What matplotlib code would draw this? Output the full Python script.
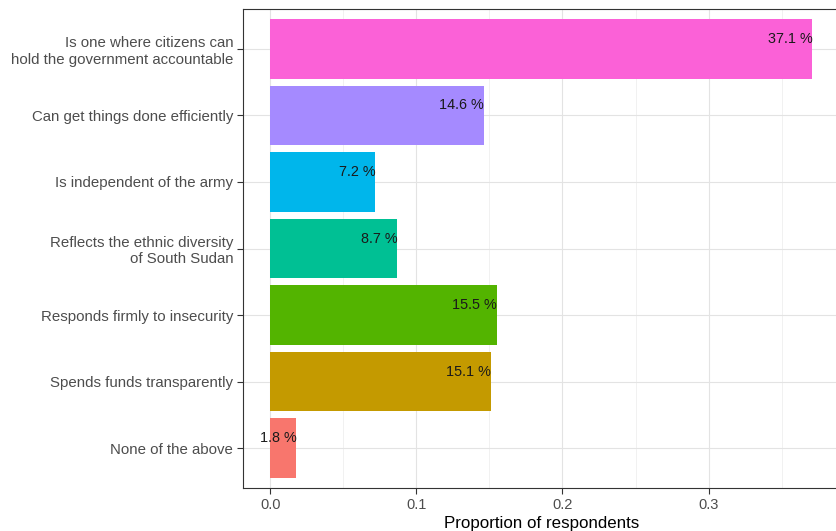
import matplotlib.pyplot as plt
import numpy as np
from matplotlib.ticker import MultipleLocator

plt.rcParams['font.family'] = ['Liberation Sans', 'DejaVu Sans']

# Data (bottom to top)
categories = ['None of the above',
              'Spends funds transparently',
              'Responds firmly to insecurity',
              'Reflects the ethnic diversity\nof South Sudan',
              'Is independent of the army',
              'Can get things done efficiently',
              'Is one where citizens can\nhold the government accountable']
values = [0.018, 0.151, 0.155, 0.087, 0.072, 0.146, 0.371]
labels = ['1.8 %', '15.1 %', '15.5 %', '8.7 %', '7.2 %', '14.6 %', '37.1 %']
colors = ['#F8766D', '#C49A00', '#53B400', '#00C094', '#00B6EB', '#A58AFF', '#FB61D7']

fig = plt.figure(figsize=(8.37, 5.31), dpi=100)
# panel runs slightly past the right edge, as in the cropped reference
ax = fig.add_axes([243/837, 1 - 488/531, (841 - 243)/837, (488 - 9)/531])

y = np.arange(len(categories))
ax.barh(y, values, height=0.9, color=colors, zorder=2)
for yi, v, lab in zip(y, values, labels):
    ax.text(v, yi + 0.15, lab, ha='right', va='center', fontsize=10.4, color='#1a1a1a', zorder=3)

ax.set_xlim(-0.0186, 0.3906)
ax.set_ylim(-0.6, len(categories) - 0.4)
ax.set_yticks(y)
ax.set_yticklabels(categories, fontsize=10.8, color='#4d4d4d', linespacing=1.2)
ax.xaxis.set_minor_locator(MultipleLocator(0.05))
ax.set_xticks([0.0, 0.1, 0.2, 0.3])
ax.set_xticklabels(['0.0', '0.1', '0.2', '0.3'], fontsize=10.5, color='#4d4d4d')
ax.tick_params(axis='both', which='major', length=4, width=0.8, color='#333333', pad=3)
ax.tick_params(axis='x', which='minor', length=0)
ax.grid(True, which='major', color='#e3e3e3', linewidth=0.8, zorder=0)
ax.grid(True, which='minor', axis='x', color='#efefef', linewidth=0.6, zorder=0)
ax.set_axisbelow(True)
for s in ax.spines.values():
    s.set_color('#333333')
    s.set_linewidth(0.8)
ax.set_xlabel('Proportion of respondents', fontsize=12.2, color='black', labelpad=3)

fig.savefig('out.png', dpi=100)
